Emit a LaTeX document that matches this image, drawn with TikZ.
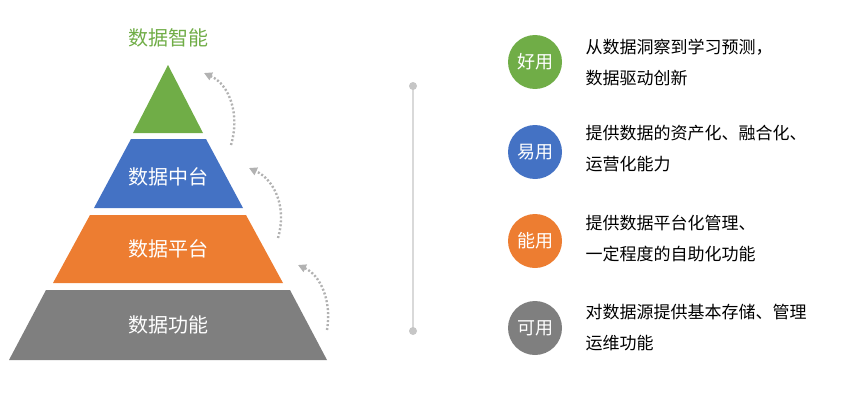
\documentclass[tikz,border=0pt]{standalone}
\usepackage{fontspec}
\setmainfont{Noto Sans CJK SC}
\usetikzlibrary{arrows.meta}
\definecolor{cgreen}{HTML}{70AD47}
\definecolor{cblue}{HTML}{4472C4}
\definecolor{corange}{HTML}{ED7D31}
\definecolor{cgray}{HTML}{7F7F7F}
\tikzset{
  layer/.style={text=white, font=\fontsize{20}{20}\selectfont},
  badge/.style={circle, minimum size=54pt, inner sep=0pt, text=white, font=\fontsize{18}{18}\selectfont},
  desc/.style={anchor=west, align=left, font=\fontsize{17}{31}\selectfont},
  up/.style={-{Triangle[length=8pt,width=8pt]}, gray!60, line width=2.4pt, dash pattern=on 2pt off 2pt}
}
\begin{document}
\begin{tikzpicture}[x=1pt, y=-1pt]
    \useasboundingbox (0,0) rectangle (861,404);
    % pyramid layers
    \fill[cgreen] (168,65) -- (203,133) -- (133,133) -- cycle;
    \fill[cblue] (131,139) -- (206,139) -- (243,208) -- (94,208) -- cycle;
    \fill[corange] (90,215) -- (246,215) -- (283,283) -- (53,283) -- cycle;
    \fill[cgray] (46,290) -- (290,290) -- (327,360) -- (9,360) -- cycle;

    \node[text=cgreen, font=\fontsize{20}{20}\selectfont] (top) at (168,38) {数据智能};
    \node[layer] (mid) at (168,177) {数据中台};
    \node[layer] (plat) at (168,249) {数据平台};
    \node[layer] (base) at (168,325) {数据功能};

    % dotted arrows
    \coordinate (a1) at (231,145);  \coordinate (b1) at (204,73);
    \coordinate (a2) at (278,238);  \coordinate (b2) at (249,168);
    \coordinate (a3) at (327,330);  \coordinate (b3) at (298,265);
    \draw[up] (a1) .. controls (240,115) and (230,85) .. (b1);
    \draw[up] (a2) .. controls (287,208) and (275,180) .. (b2);
    \draw[up] (a3) .. controls (332,300) and (320,275) .. (b3);

    % divider
    \coordinate (d1) at (413,86);  \coordinate (d2) at (413,331);
    \draw[gray!30, line width=1.2pt] (d1) -- (d2);
    \fill[gray!45] (d1) circle (4pt) (d2) circle (4pt);

    % right column
    \node[badge, fill=cgreen] (good) at (535,62) {好用};
    \node[badge, fill=cblue] (easy) at (535,152) {易用};
    \node[badge, fill=corange] (can) at (535,241) {能用};
    \node[badge, fill=cgray] (ok) at (535,328) {可用};

    \node[desc] (t1) at (582,62) {从数据洞察到学习预测，\\数据驱动创新};
    \node[desc] (t2) at (582,149) {提供数据的资产化、融合化、\\运营化能力};
    \node[desc] (t3) at (582,239) {提供数据平台化管理、\\一定程度的自助化功能};
    \node[desc] (t4) at (582,328) {对数据源提供基本存储、管理\\运维功能};
\end{tikzpicture}
\end{document}
